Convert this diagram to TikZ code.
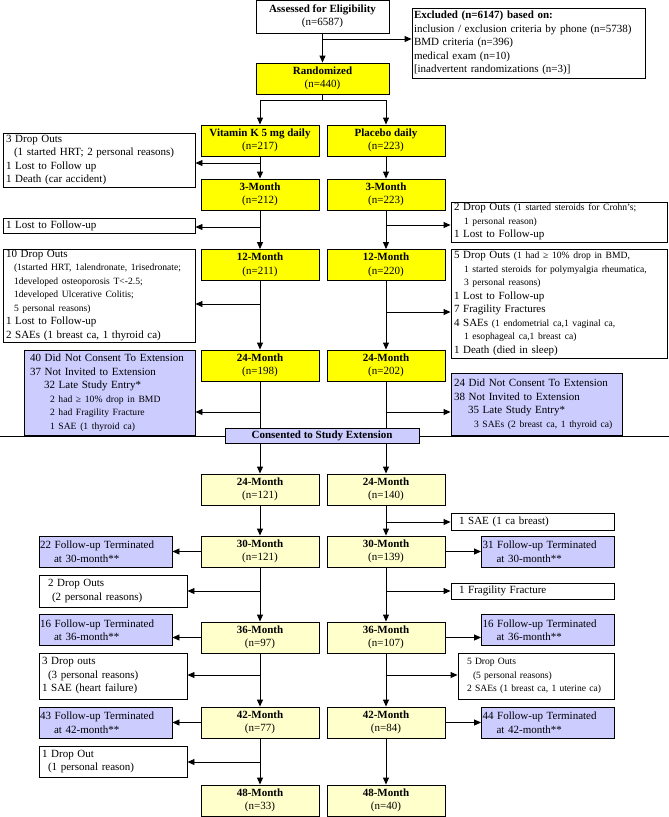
\documentclass[tikz,border=0pt]{standalone}
\usepackage{fontspec}
\setmainfont{Liberation Serif}
\usepackage{xcolor}
\usetikzlibrary{arrows.meta}

\definecolor{armyellow}{HTML}{FFFF00}
\definecolor{extyellow}{HTML}{FFFFCC}
\definecolor{exitblue}{HTML}{CCCCFF}
\newcommand\smtxt{\fontsize{9.6}{13.5}\selectfont}

\tikzset{
    box/.style={draw, line width=0.9pt, inner xsep=3pt, inner ysep=1pt,
        font=\fontsize{11}{13.5}\selectfont},
    armbox/.style={box, fill=armyellow, align=center, minimum width=118, minimum height=31},
    extbox/.style={armbox, fill=extyellow},
    topbox/.style={box, fill=white, align=center},
    notebox/.style={box, fill=white, align=left},
    exitbox/.style={box, fill=exitblue, align=left},
    termbox/.style={exitbox, inner xsep=1pt, text width=131, minimum height=31},
}

\begin{document}
\begin{tikzpicture}[x=1pt, y=-1pt, >={Triangle[length=7pt,width=6pt]}, line width=0.9pt]
                \useasboundingbox (0, 0) rectangle (669, 817);

                \coordinate (DIVL) at (0, 436);
                \coordinate (DIVR) at (669, 436);
                \draw[line width=0.8pt] (DIVL) -- (DIVR);

                \node[topbox, minimum width=133, minimum height=33] (ELIG) at (322.5, 16.5){\textbf{Assessed for Eligibility}\\(n=6587)};
                \node[notebox, inner xsep=2pt, text width=229, minimum height=70] (EXCL) at (528.5, 43){\textbf{Excluded (n=6147) based on:}\\inclusion / exclusion criteria by phone (n=5738)\\BMD criteria (n=396)\\medical exam (n=10)\\{[}inadvertent randomizations (n=3)]};
                \node[armbox, minimum width=133] (RAND) at (322.5, 78.5){\textbf{Randomized}\\(n=440)};

                \node[armbox] (V0) at (260, 140.5){\textbf{Vitamin K 5 mg daily}\\(n=217)};
                \node[armbox] (P0) at (386, 140.5){\textbf{Placebo daily}\\(n=223)};
                \node[armbox] (V3) at (260, 194.5){\textbf{3-Month}\\(n=212)};
                \node[armbox] (P3) at (386, 194.5){\textbf{3-Month}\\(n=223)};
                \node[armbox] (V12) at (260, 265){\textbf{12-Month}\\(n=211)};
                \node[armbox] (P12) at (386, 265){\textbf{12-Month}\\(n=220)};
                \node[armbox] (V24) at (260, 365.5){\textbf{24-Month}\\(n=198)};
                \node[armbox] (P24) at (386, 365.5){\textbf{24-Month}\\(n=202)};

                \node[box, fill=exitblue, minimum width=194, minimum height=15] (CONS) at (322, 435.5){\textbf{Consented to Study Extension}};

                \node[extbox] (VE24) at (260, 489.5){\textbf{24-Month}\\(n=121)};
                \node[extbox] (PE24) at (386, 489.5){\textbf{24-Month}\\(n=140)};
                \node[extbox] (VE30) at (260, 551.5){\textbf{30-Month}\\(n=121)};
                \node[extbox] (PE30) at (386, 551.5){\textbf{30-Month}\\(n=139)};
                \node[extbox] (VE36) at (260, 637.5){\textbf{36-Month}\\(n=97)};
                \node[extbox] (PE36) at (386, 637.5){\textbf{36-Month}\\(n=107)};
                \node[extbox] (VE42) at (260, 722.5){\textbf{42-Month}\\(n=77)};
                \node[extbox] (PE42) at (386, 722.5){\textbf{42-Month}\\(n=84)};
                \node[extbox] (VE48) at (260, 800.5){\textbf{48-Month}\\(n=33)};
                \node[extbox] (PE48) at (386, 800.5){\textbf{48-Month}\\(n=40)};

                \node[notebox, text width=186, minimum height=54] (L1) at (99, 160){3 Drop Outs\\\hspace*{8pt}(1 started HRT; 2 personal reasons)\\1 Lost to Follow up\\1 Death (car accident)};
                \node[notebox, text width=186, minimum height=15] (L2) at (99, 225.5){1 Lost to Follow-up};
                \node[notebox, text width=186, minimum height=93] (L3) at (99, 295.5){10 Drop Outs\\\hspace*{8pt}{\smtxt(1started HRT, 1alendronate, 1risedronate;}\\\hspace*{8pt}{\smtxt 1developed osteoporosis T<-2.5;}\\\hspace*{8pt}{\smtxt 1developed Ulcerative Colitis;}\\\hspace*{8pt}{\smtxt 5 personal reasons)}\\1 Lost to Follow-up\\2 SAEs (1 breast ca, 1 thyroid ca)};
                \node[exitbox, inner xsep=4pt, text width=163, minimum height=85] (L4) at (109.5, 392.5){\hspace*{2pt}40 Did Not Consent To Extension\\\hspace*{2pt}37 Not Invited to Extension\\\hspace*{16pt}32 Late Study Entry*\\\hspace*{22pt}{\smtxt 2 had ≥ 10\% drop in BMD}\\\hspace*{22pt}{\smtxt 2 had Fragility Fracture}\\\hspace*{22pt}{\smtxt 1 SAE (1 thyroid ca)}};
                \node[termbox] (L5) at (105.5, 551.5){22 Follow-up Terminated\\\hspace*{14pt}at 30-month**};
                \node[notebox, text width=142, minimum height=32] (L6) at (113, 591){\hspace*{6pt}2 Drop Outs\\\hspace*{10pt}(2 personal reasons)};
                \node[termbox] (L7) at (105.5, 630){16 Follow-up Terminated\\\hspace*{14pt}at 36-month**};
                \node[notebox, text width=142, minimum height=46] (L8) at (113, 676){3 Drop outs\\\hspace*{6pt}(3 personal reasons)\\1 SAE (heart failure)};
                \node[termbox] (L9) at (105.5, 722.5){43 Follow-up Terminated\\\hspace*{14pt}at 42-month**};
                \node[notebox, text width=142, minimum height=31] (L10) at (113, 761.5){1 Drop Out\\\hspace*{6pt}(1 personal reason)};

                \node[notebox, text width=210, minimum height=40] (R1) at (559, 222){2 Drop Outs {\smtxt(1 started steroids for Crohn’s;}\\\hspace*{10pt}{\smtxt 1 personal reason)}\\1 Lost to Follow-up};
                \node[notebox, text width=210, minimum height=109] (R2) at (559, 303.5){5 Drop Outs {\smtxt(1 had ≥ 10\% drop in BMD,}\\\hspace*{10pt}{\smtxt 1 started steroids for polymyalgia rheumatica,}\\\hspace*{10pt}{\smtxt 3 personal reasons)}\\1 Lost to Follow-up\\7 Fragility Fractures\\4 SAEs {\smtxt(1 endometrial ca,1 vaginal ca,}\\\hspace*{10pt}{\smtxt 1 esophageal ca,1 breast ca)}\\1 Death (died in sleep)};
                \node[exitbox, text width=165, minimum height=62] (R3) at (536.5, 404){24 Did Not Consent To Extension\\38 Not Invited to Extension\\\hspace*{14pt}35 Late Study Entry*\\\hspace*{20pt}{\smtxt 3 SAEs (2 breast ca, 1 thyroid ca)}};
                \node[notebox, text width=157, minimum height=17] (R4) at (532.5, 521.5){\hspace*{5pt}1 SAE (1 ca breast)};
                \node[termbox] (R5) at (548, 551.5){31 Follow-up Terminated\\\hspace*{14pt}at 30-month**};
                \node[notebox, text width=157, minimum height=16] (R6) at (532.5, 591){\hspace*{5pt}1 Fragility Fracture};
                \node[termbox] (R7) at (548, 630){16 Follow-up Terminated\\\hspace*{14pt}at 36-month**};
                \node[notebox, text width=150, minimum height=46, font=\smtxt] (R8) at (536, 676){\hspace*{6pt}5 Drop Outs\\\hspace*{12pt}(5 personal reasons)\\\hspace*{6pt}2 SAEs (1 breast ca, 1 uterine ca)};
                \node[termbox] (R9) at (548, 722.5){44 Follow-up Terminated\\\hspace*{14pt}at 42-month**};

                \coordinate (J0) at (322.5, 39);
                \coordinate (JS) at (322.5, 100);
                \coordinate (J1) at (260, 163);
                \coordinate (J2) at (260, 227);
                \coordinate (J3) at (386, 225);
                \coordinate (J4) at (260, 304);
                \coordinate (J5) at (386, 312);
                \coordinate (J6) at (260, 412);
                \coordinate (J7) at (386, 412);
                \coordinate (J8) at (386, 522);
                \coordinate (J9) at (260, 591);
                \coordinate (J10) at (386, 591);
                \coordinate (J11) at (260, 675);
                \coordinate (J12) at (386, 675);
                \coordinate (J13) at (260, 762);

                \draw[->] (ELIG) -- (RAND);
                \draw[->] (J0) -- (J0 -| EXCL.west);
                \draw (RAND) -- (JS);
                \draw[->] (JS) -| (V0);
                \draw[->] (JS) -| (P0);

                \draw[->] (V0) -- (V3);
                \draw[->] (P0) -- (P3);
                \draw[->] (V3) -- (V12);
                \draw[->] (P3) -- (P12);
                \draw[->] (V12) -- (V24);
                \draw[->] (P12) -- (P24);
                \draw (V24) -- (V24 |- CONS.north);
                \draw (P24) -- (P24 |- CONS.north);
                \draw[->] (VE24 |- CONS.south) -- (VE24);
                \draw[->] (PE24 |- CONS.south) -- (PE24);
                \draw[->] (VE24) -- (VE30);
                \draw[->] (PE24) -- (PE30);
                \draw[->] (VE30) -- (VE36);
                \draw[->] (PE30) -- (PE36);
                \draw[->] (VE36) -- (VE42);
                \draw[->] (PE36) -- (PE42);
                \draw[->] (VE42) -- (VE48);
                \draw[->] (PE42) -- (PE48);

                \draw[->] (J1) -- (J1 -| L1.east);
                \draw[->] (J2) -- (J2 -| L2.east);
                \draw[->] (J3) -- (J3 -| R1.west);
                \draw[->] (J4) -- (J4 -| L3.east);
                \draw[->] (J5) -- (J5 -| R2.west);
                \draw[->] (J6) -- (J6 -| L4.east);
                \draw[->] (J7) -- (J7 -| R3.west);
                \draw[->] (J8) -- (J8 -| R4.west);
                \draw[->] (J9) -- (J9 -| L6.east);
                \draw[->] (J10) -- (J10 -| R6.west);
                \draw[->] (J11) -- (J11 -| L8.east);
                \draw[->] (J12) -- (J12 -| R8.west);
                \draw[->] (J13) -- (J13 -| L10.east);

                \draw[->] (VE30.west) -- (VE30.west -| L5.east);
                \draw[->] (PE30.east) -- (PE30.east -| R5.west);
                \draw[->] (VE36.west) -- (VE36.west -| L7.east);
                \draw[->] (PE36.east) -- (PE36.east -| R7.west);
                \draw[->] (VE42.west) -- (VE42.west -| L9.east);
                \draw[->] (PE42.east) -- (PE42.east -| R9.west);
            \end{tikzpicture}
\end{document}
